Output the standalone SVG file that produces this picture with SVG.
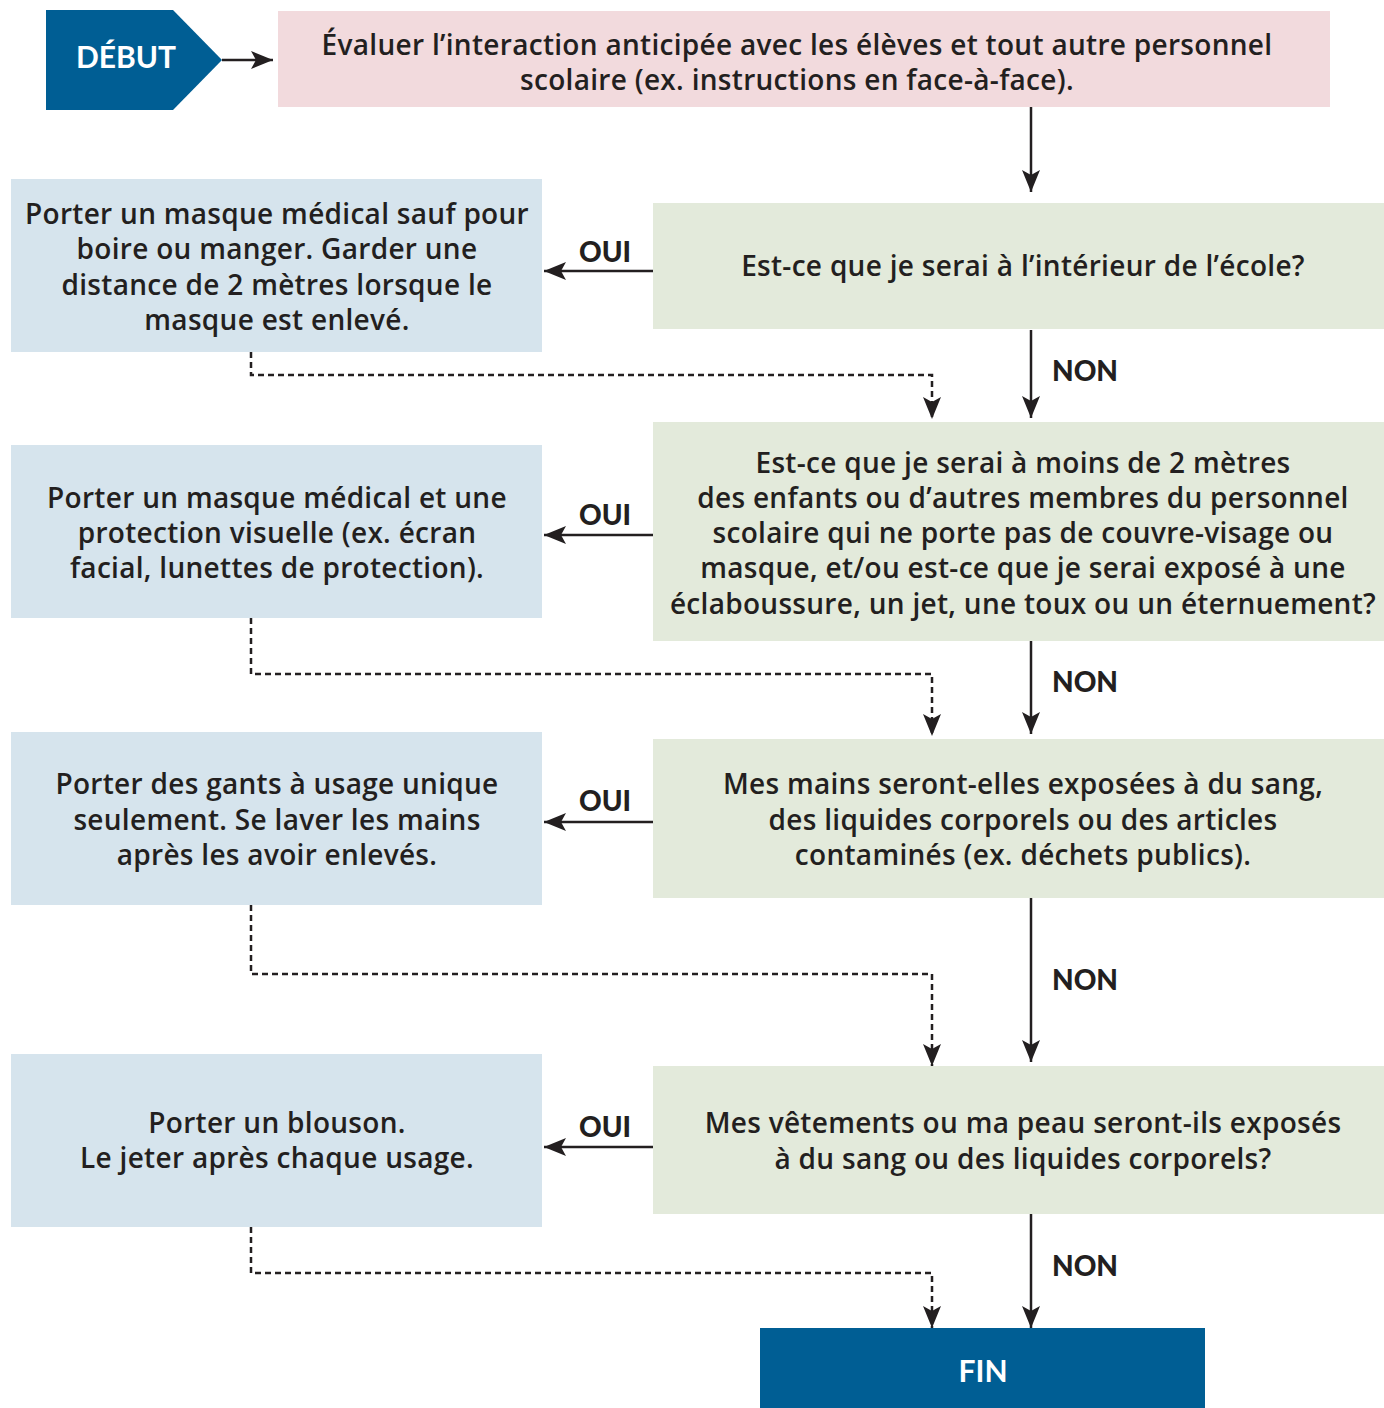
<svg xmlns="http://www.w3.org/2000/svg" width="1384" height="1408" viewBox="0 0 1384 1408">
<style>
.t{font-family:"Open Sans","Noto Sans","Liberation Sans",sans-serif;font-weight:600;font-size:28px;letter-spacing:0.3px;fill:#231f20;text-anchor:middle}
.lbl{font-family:Lato,"Noto Sans","Liberation Sans",sans-serif;font-weight:900;font-size:28px;fill:#231f20;text-anchor:middle}
.w{font-family:Lato,"Noto Sans","Liberation Sans",sans-serif;font-weight:700;font-size:30px;fill:#ffffff;text-anchor:middle}
.pink{fill:#f2dadd}
.green{fill:#e3eadb}
.blue{fill:#d6e4ed}
.dark{fill:#005e94}
.solid{stroke:#231f20;stroke-width:2.5;fill:none;marker-end:url(#ah)}
.dash{stroke:#231f20;stroke-width:2.5;fill:none;stroke-dasharray:6 4;marker-end:url(#ah)}
</style>
<defs>
<marker id="ah" markerUnits="userSpaceOnUse" markerWidth="24" markerHeight="18" refX="22" refY="9" orient="auto">
<path d="M0,0 L22,9 L0,18 L5,9 Z" fill="#231f20"/>
</marker>
</defs>
<g id="start">
<polygon class="dark" points="46,10 173,10 222,60 173,110 46,110"/>
<text class="w" x="126" y="68">DÉBUT</text>
</g>
<g id="evaluate">
<rect class="pink" x="278" y="11" width="1052" height="96"/>
<text class="t" x="797" y="55">Évaluer l’interaction anticipée avec les élèves et tout autre personnel</text>
<text class="t" x="797" y="90">scolaire (ex. instructions en face-à-face).</text>
</g>
<g id="q1">
<rect class="green" x="653" y="203" width="731" height="126"/>
<text class="t" x="1023" y="276">Est-ce que je serai à l’intérieur de l’école?</text>
</g>
<g id="a1">
<rect class="blue" x="11" y="179" width="531" height="173"/>
<text class="t" x="277" y="224">Porter un masque médical sauf pour</text>
<text class="t" x="277" y="259">boire ou manger. Garder une</text>
<text class="t" x="277" y="295">distance de 2 mètres lorsque le</text>
<text class="t" x="277" y="330">masque est enlevé.</text>
</g>
<g id="q2">
<rect class="green" x="653" y="422" width="731" height="219"/>
<text class="t" x="1023" y="473">Est-ce que je serai à moins de 2 mètres</text>
<text class="t" x="1023" y="508">des enfants ou d’autres membres du personnel</text>
<text class="t" x="1023" y="543">scolaire qui ne porte pas de couvre-visage ou</text>
<text class="t" x="1023" y="578">masque, et/ou est-ce que je serai exposé à une</text>
<text class="t" x="1023" y="614">éclaboussure, un jet, une toux ou un éternuement?</text>
</g>
<g id="a2">
<rect class="blue" x="11" y="445" width="531" height="173"/>
<text class="t" x="277" y="508">Porter un masque médical et une</text>
<text class="t" x="277" y="543">protection visuelle (ex. écran</text>
<text class="t" x="277" y="578">facial, lunettes de protection).</text>
</g>
<g id="q3">
<rect class="green" x="653" y="739" width="731" height="159"/>
<text class="t" x="1023" y="794">Mes mains seront-elles exposées à du sang,</text>
<text class="t" x="1023" y="830">des liquides corporels ou des articles</text>
<text class="t" x="1023" y="865">contaminés (ex. déchets publics).</text>
</g>
<g id="a3">
<rect class="blue" x="11" y="732" width="531" height="173"/>
<text class="t" x="277" y="794">Porter des gants à usage unique</text>
<text class="t" x="277" y="830">seulement. Se laver les mains</text>
<text class="t" x="277" y="865">après les avoir enlevés.</text>
</g>
<g id="q4">
<rect class="green" x="653" y="1066" width="731" height="148"/>
<text class="t" x="1023" y="1133">Mes vêtements ou ma peau seront-ils exposés</text>
<text class="t" x="1023" y="1169">à du sang ou des liquides corporels?</text>
</g>
<g id="a4">
<rect class="blue" x="11" y="1054" width="531" height="173"/>
<text class="t" x="277" y="1133">Porter un blouson.</text>
<text class="t" x="277" y="1168">Le jeter après chaque usage.</text>
</g>
<g id="end">
<rect class="dark" x="760" y="1328" width="445" height="80"/>
<text class="w" x="983" y="1382">FIN</text>
</g>
<g id="connectors">
<line class="solid" x1="222" y1="60" x2="273" y2="60"/>
<line class="solid" x1="1031" y1="107" x2="1031" y2="192"/>
<line class="solid" x1="653" y1="271" x2="544" y2="271"/>
<line class="solid" x1="1031" y1="330" x2="1031" y2="418"/>
<line class="solid" x1="653" y1="535" x2="544" y2="535"/>
<line class="solid" x1="1031" y1="641" x2="1031" y2="734"/>
<line class="solid" x1="653" y1="822" x2="544" y2="822"/>
<line class="solid" x1="1031" y1="898" x2="1031" y2="1062"/>
<line class="solid" x1="653" y1="1147" x2="544" y2="1147"/>
<line class="solid" x1="1031" y1="1214" x2="1031" y2="1328"/>
<polyline class="dash" points="251,352 251,375 932,375 932,419"/>
<polyline class="dash" points="251,618 251,674 932,674 932,736"/>
<polyline class="dash" points="251,905 251,974 932,974 932,1066"/>
<polyline class="dash" points="251,1227 251,1273 932,1273 932,1328"/>
<text class="lbl" x="605" y="262">OUI</text>
<text class="lbl" x="605" y="525">OUI</text>
<text class="lbl" x="605" y="811">OUI</text>
<text class="lbl" x="605" y="1137">OUI</text>
<text class="lbl" x="1085" y="381">NON</text>
<text class="lbl" x="1085" y="692">NON</text>
<text class="lbl" x="1085" y="990">NON</text>
<text class="lbl" x="1085" y="1276">NON</text>
</g>
</svg>
